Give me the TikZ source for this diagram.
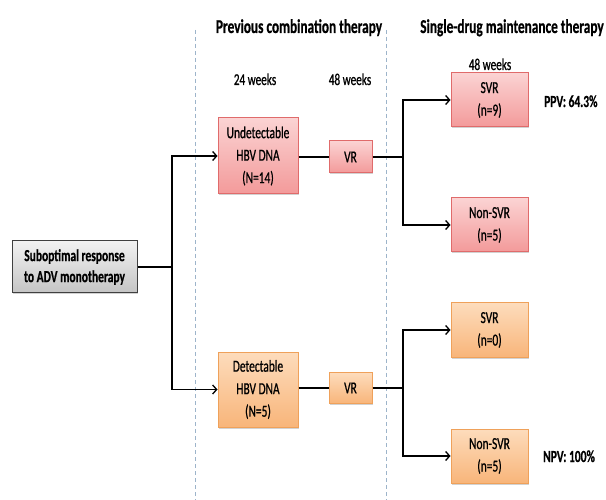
\documentclass[tikz,border=0pt]{standalone}
\usepackage{fontspec}
\setmainfont{Carlito}[FakeStretch=0.68]
\newfontfamily\boxfont{Carlito}[FakeStretch=0.68, FakeBold=0.8]
\newfontfamily\hfont{Carlito Bold}[FakeStretch=0.68, FakeBold=0.6]
\usetikzlibrary{arrows.meta,shadows}
\definecolor{pinkfillA}{HTML}{FBD3D3}
\definecolor{pinkfillB}{HTML}{F39A9A}
\definecolor{pinkdraw}{HTML}{E06B6B}
\definecolor{orfillA}{HTML}{FDDCBC}
\definecolor{orfillB}{HTML}{F8B57A}
\definecolor{ordraw}{HTML}{EFA15A}
\definecolor{grayfillA}{HTML}{F2F2F2}
\definecolor{grayfillB}{HTML}{C4C4C4}
\definecolor{dashcol}{HTML}{9DB4CA}
\tikzset{
  x=1pt, y=-1pt,
  boxbase/.style={rectangle, inner sep=0pt, align=center, font=\boxfont\fontsize{16.8}{22.5}\selectfont,
    drop shadow={shadow xshift=1.2pt, shadow yshift=-1.5pt, opacity=0.35, fill=gray}},
  pinkbox/.style={boxbase, draw=pinkdraw, line width=1pt, top color=pinkfillA, bottom color=pinkfillB},
  orbox/.style={boxbase, draw=ordraw, line width=1pt, top color=orfillA, bottom color=orfillB},
  graybox/.style={boxbase, draw=black!75, line width=1pt, top color=grayfillA, bottom color=grayfillB,
    font=\hfont\fontsize{16.9}{21}\selectfont},
  conn/.style={line width=1.3pt, black},
  arr/.style={conn, -{Straight Barb[length=4pt,width=9pt,line width=1.3pt]}},
  sepline/.style={dashcol, line width=1pt, dash pattern=on 4pt off 3pt},
  heading/.style={anchor=base, inner sep=0pt, font=\hfont\fontsize{19.6}{22}\selectfont},
  weeklbl/.style={anchor=base, inner sep=0pt, font=\boxfont\fontsize{16.5}{18}\selectfont},
  vallbl/.style={anchor=base west, inner sep=0pt, font=\hfont\fontsize{16.9}{18}\selectfont},
}
\begin{document}
\begin{tikzpicture}
\useasboundingbox[fill=white] (0,0) rectangle (606,500);

% separators
\coordinate (s1t) at (195,30); \coordinate (s1b) at (195,500);
\coordinate (s2t) at (386,30); \coordinate (s2b) at (386,500);
\draw[sepline] (s1t) -- (s1b);
\draw[sepline] (s2t) -- (s2b);

% headings
\node[heading] (h1) at (299,33) {Previous combination therapy};
\node[heading] (h2) at (512,33) {Single-drug maintenance therapy};
\node[weeklbl] (w24) at (255,85) {24 weeks};
\node[weeklbl] (w48a) at (350,85) {48 weeks};
\node[weeklbl] (w48b) at (490,70) {48 weeks};

% boxes
\node[graybox, minimum width=125pt, minimum height=52pt] (start) at (74.5,267) {Suboptimal response\\to ADV monotherapy};
\node[pinkbox, minimum width=80pt, minimum height=76pt] (undet) at (258,156) {Undetectable\\HBV DNA\\(N=14)};
\node[orbox, minimum width=80pt, minimum height=75pt] (det) at (258,389.5) {Detectable\\HBV DNA\\(N=5)};
\node[pinkbox, minimum width=43pt, minimum height=32pt] (vr1) at (350.5,157) {VR};
\node[orbox, minimum width=43pt, minimum height=31pt] (vr2) at (350.5,388) {VR};
\node[pinkbox, minimum width=77pt, minimum height=54pt] (svr1) at (489.5,100) {SVR\\(n=9)};
\node[pinkbox, minimum width=77pt, minimum height=54pt] (nsvr1) at (489.5,225) {Non-SVR\\(n=5)};
\node[orbox, minimum width=77pt, minimum height=54pt] (svr2) at (489.5,330) {SVR\\(n=0)};
\node[orbox, minimum width=77pt, minimum height=54pt] (nsvr2) at (489.5,456) {Non-SVR\\(n=5)};

% values
\node[vallbl] (ppv) at (544,107) {PPV: 64.3\%};
\node[vallbl] (npv) at (543,462) {NPV: 100\%};

% connectors
\coordinate (j0) at (172,267);
\coordinate (j1) at (403,157);
\coordinate (j2) at (403,388);
\draw[conn] (start.east) -- (j0);
\draw[arr] (j0) |- (undet.west);
\draw[arr] (j0) |- (det.west);
\draw[conn] (undet.east |- vr1.west) -- (vr1.west);
\draw[conn] (vr1.east) -- (j1);
\draw[arr] (j1) |- (svr1.west);
\draw[arr] (j1) |- (nsvr1.west);
\draw[conn] (det.east |- vr2.west) -- (vr2.west);
\draw[conn] (vr2.east) -- (j2);
\draw[arr] (j2) |- (svr2.west);
\draw[arr] (j2) |- (nsvr2.west);
\end{tikzpicture}
\end{document}
